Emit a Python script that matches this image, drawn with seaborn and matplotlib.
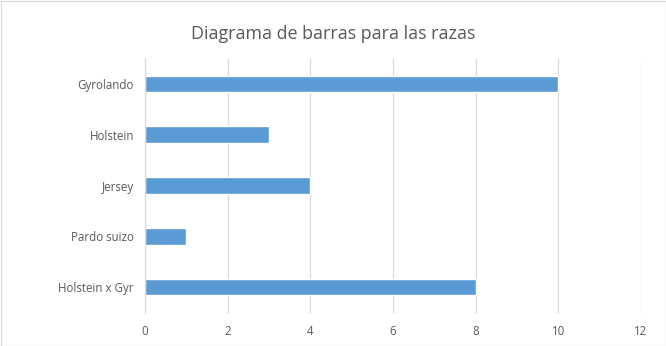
import matplotlib
matplotlib.use("Agg")
import matplotlib.pyplot as plt
import seaborn as sns
import pandas as pd

razas = ["Gyrolando", "Holstein", "Jersey", "Pardo suizo", "Holstein x Gyr"]
cantidades = [10, 3, 4, 1, 8]
xticks = [0, 2, 4, 6, 8, 10, 12]

sns.set_theme(style="white")
plt.rcParams['font.family'] = ['Open Sans', 'DejaVu Sans']

df = pd.DataFrame({"raza": razas, "cantidad": cantidades})

fig = plt.figure(figsize=(6.66, 3.46), dpi=100)
ax = fig.add_axes([145/666, 1 - 312.5/346, (641 - 145)/666, (312.5 - 58.5)/346])
sns.barplot(data=df, y="raza", x="cantidad", order=razas, color="#5B9BD5",
            saturation=1, width=0.33, ax=ax, orient="h")
ax.set_xlim(0, 12)
ax.set_xticks(xticks)
ax.set_xlabel("")
ax.set_ylabel("")
ax.grid(axis="x", color="#D9D9D9", linewidth=0.9)
ax.set_axisbelow(True)
for s in ["top", "right", "bottom"]:
    ax.spines[s].set_visible(False)
ax.spines["left"].set_color("#D9D9D9")
ax.spines["left"].set_linewidth(0.9)
ax.tick_params(axis="both", length=0, labelsize=8.3, colors="#595959", pad=8)
ax.tick_params(axis="x", pad=9)

fig.text(0.5, 1 - 34/346, "Diagrama de barras para las razas", ha="center", va="center",
         fontsize=12.9, color="#595959")

fig.patches.append(plt.Rectangle((0.5/666, 0.5/346), 1 - 1/666, 1 - 1/346,
                                 transform=fig.transFigure, fill=False,
                                 edgecolor="#D9D9D9", linewidth=0.9))
fig.savefig("out.png", dpi=100)
